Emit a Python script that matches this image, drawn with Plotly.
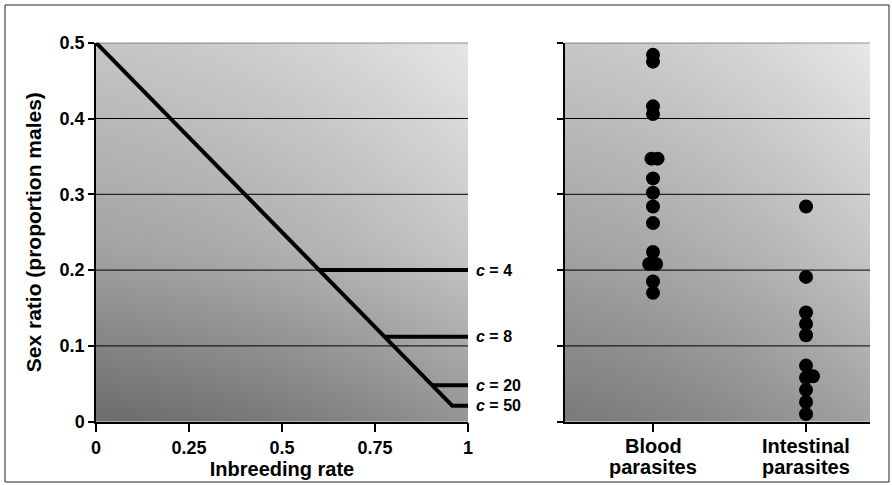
import plotly.graph_objects as go

# ---------------- data ----------------
y_ticks = [0, 0.1, 0.2, 0.3, 0.4, 0.5]
y_ticklabels = ["0", "0.1", "0.2", "0.3", "0.4", "0.5"]
x_ticks = [0, 0.25, 0.5, 0.75, 1]
x_ticklabels = ["0", "0.25", "0.5", "0.75", "1"]

# theoretical line (inbreeding rate vs sex ratio)
diag_x = [0, 0.96]
diag_y = [0.5, 0.02]

# constraint lines for number of gametocytes c
c_labels = ["4", "8", "20", "50"]
c_start = [0.60, 0.776, 0.904, 0.958]
c_value = [0.20, 0.112, 0.048, 0.021]

# observed sex ratios
categories = [["Blood", "parasites"], ["Intestinal", "parasites"]]
blood_y = [0.484, 0.475, 0.416, 0.406, 0.347, 0.347, 0.321, 0.302, 0.284,
           0.262, 0.224, 0.208, 0.208, 0.185, 0.170]
blood_dx = [0, 0, 0, 0, -0.01, 0.03, 0, 0, 0, 0, 0, -0.025, 0.02, 0, 0]
intest_y = [0.284, 0.191, 0.144, 0.129, 0.114, 0.074, 0.058, 0.060, 0.042,
            0.026, 0.010]
intest_dx = [0, 0, 0, 0, 0, 0, 0, 0.045, 0, 0, 0]

# ---------------- figure ----------------
FONT = "Liberation Sans, Arial, sans-serif"
W, H = 892, 485
xr1 = [0, 1]
yr = [0, 0.5]
xr2 = [-0.575, 1.418]

fig = go.Figure()

def background(xaxis, yaxis, xr, dark, light):
    fig.add_trace(go.Scatter(
        x=[xr[0], xr[1], xr[1], xr[0], xr[0]],
        y=[yr[0], yr[0], yr[1], yr[1], yr[0]],
        fill="toself", mode="none", hoverinfo="skip", showlegend=False,
        fillgradient=dict(type="vertical",
                          colorscale=[[0, dark], [0.45, "#b8b8b8"], [1, light]]),
        xaxis=xaxis, yaxis=yaxis))
    fig.add_trace(go.Scatter(
        x=[xr[0], xr[1], xr[1], xr[0], xr[0]],
        y=[yr[0], yr[0], yr[1], yr[1], yr[0]],
        fill="toself", mode="none", hoverinfo="skip", showlegend=False,
        fillgradient=dict(type="horizontal",
                          colorscale=[[0, "rgba(0,0,0,0.12)"],
                                      [1, "rgba(255,255,255,0.2)"]]),
        xaxis=xaxis, yaxis=yaxis))

background("x", "y", xr1, "#7a7a7a", "#e0e0e0")
background("x2", "y2", xr2, "#8a8a8a", "#e2e2e2")

# diagonal
fig.add_trace(go.Scatter(x=diag_x, y=diag_y, mode="lines",
                         line=dict(color="black", width=4),
                         showlegend=False, hoverinfo="skip"))
# c lines
for lab, xs, v in zip(c_labels, c_start, c_value):
    fig.add_trace(go.Scatter(x=[xs, xr1[1]], y=[v, v], mode="lines",
                             line=dict(color="black", width=4),
                             showlegend=False, hoverinfo="skip"))
    fig.add_annotation(x=xr1[1], y=v, xref="x", yref="y",
                       text=f"<b><i>c</i> = {lab}</b>",
                       showarrow=False, xanchor="left", xshift=6,
                       font=dict(family=FONT, size=16, color="black"))

# points
fig.add_trace(go.Scatter(x=[0 + d for d in blood_dx], y=blood_y, mode="markers",
                         marker=dict(color="black", size=14),
                         xaxis="x2", yaxis="y2", showlegend=False))
fig.add_trace(go.Scatter(x=[1 + d for d in intest_dx], y=intest_y, mode="markers",
                         marker=dict(color="black", size=14),
                         xaxis="x2", yaxis="y2", showlegend=False))

# category labels (two tight lines each)
for i, (l1, l2) in enumerate(categories):
    for txt, py in ((l1, 445.5), (l2, 466.5)):
        fig.add_annotation(x=i, xref="x2", y=1 - py / H, yref="paper",
                           text=f"<b>{txt}</b>", showarrow=False,
                           xanchor="center", yanchor="middle",
                           font=dict(family=FONT, size=20, color="black"))

# grid lines (drawn as shapes to sit above the shaded background)
shapes = []
for ax in ["", "2"]:
    for v in y_ticks[1:]:
        shapes.append(dict(type="line", xref=f"x{ax} domain", x0=0, x1=1,
                           yref=f"y{ax}", y0=v, y1=v,
                           line=dict(color="black", width=1), layer="above"))
# outer frame
shapes.append(dict(type="rect", xref="paper", yref="paper",
                   x0=5 / W, x1=889 / W, y0=1 - 482 / H, y1=1 - 5 / H,
                   line=dict(color="#222", width=1), layer="below"))

ydom = [(H - 421.7) / H, (H - 42.7) / H]
tickfont = dict(family=FONT, size=18, color="black")
axis_common = dict(showgrid=False, zeroline=False, showline=True,
                   linecolor="black", linewidth=1.5, ticks="outside",
                   tickcolor="black", tickwidth=1.5, automargin=False)

fig.update_layout(
    width=W, height=H,
    margin=dict(l=0, r=0, t=0, b=0),
    paper_bgcolor="white", plot_bgcolor="rgba(0,0,0,0)",
    shapes=shapes,
    xaxis=dict(domain=[96 / W, 468 / W], range=xr1, tickvals=x_ticks,
               ticktext=[f"<b>{t}</b>" for t in x_ticklabels], ticklen=9,
               tickfont=tickfont,
               title=dict(text="<b>Inbreeding rate</b>", standoff=2,
                          font=dict(family=FONT, size=20, color="black")),
               **axis_common),
    yaxis=dict(domain=ydom, range=yr, tickvals=y_ticks,
               ticktext=[f"<b>{t}</b>" for t in y_ticklabels], ticklen=6,
               tickfont=tickfont,
               title=dict(text="<b>Sex ratio (proportion males)</b>", standoff=12,
                          font=dict(family=FONT, size=21, color="black")),
               **axis_common),
    xaxis2=dict(domain=[565 / W, 870 / W], range=xr2, anchor="y2",
                tickvals=[0, 1], showticklabels=False,
                ticklen=9, **axis_common),
    yaxis2=dict(domain=ydom, range=yr, anchor="x2", tickvals=y_ticks,
                showticklabels=False, ticklen=6, **axis_common),
)

fig.write_html("out.html", config={"displayModeBar": False},
               post_script="document.body.style.margin='0';")
